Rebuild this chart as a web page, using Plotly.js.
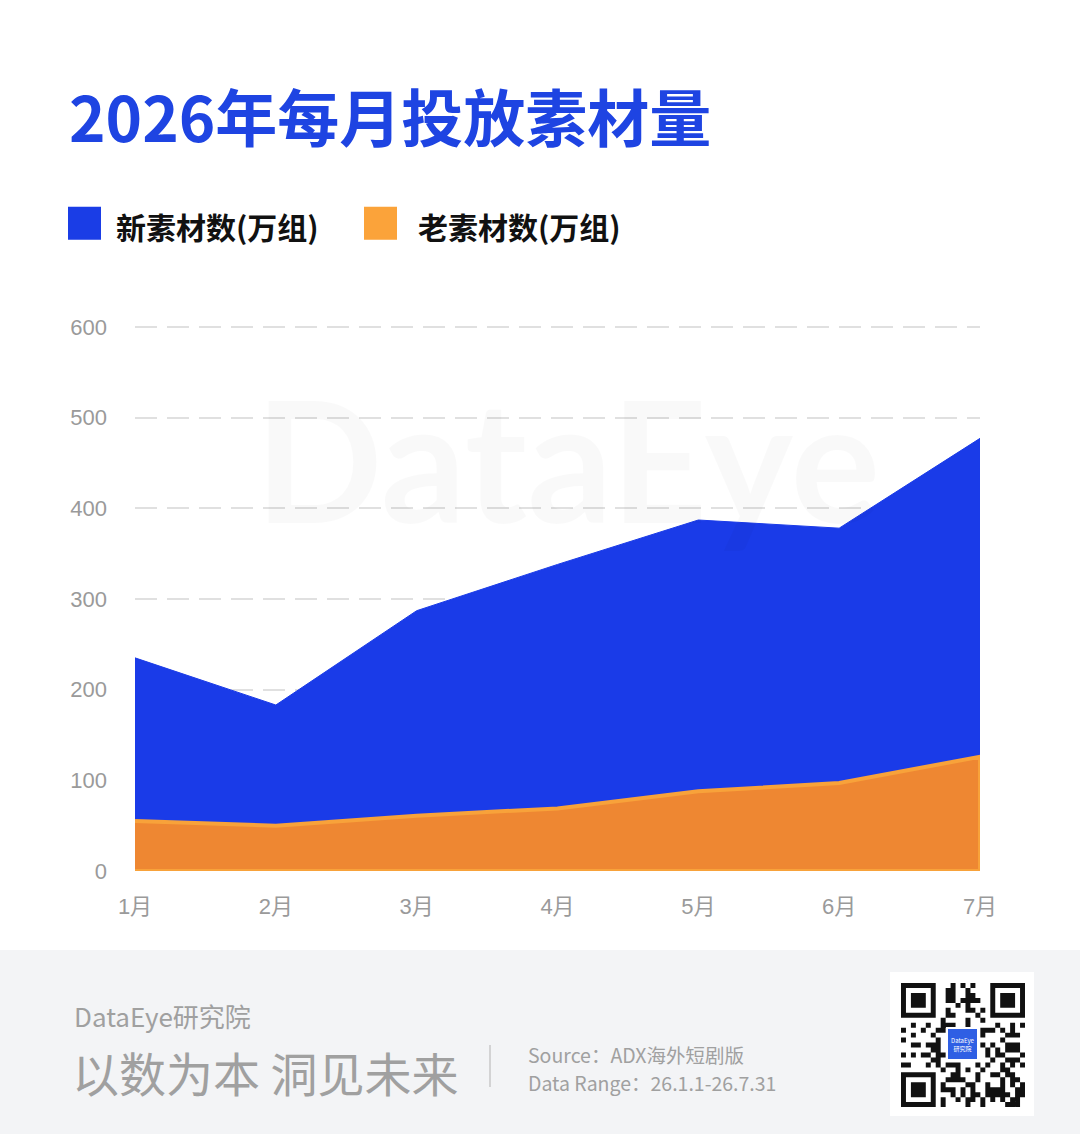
<!DOCTYPE html>
<html>
<head>
<meta charset="utf-8">
<script src="https://cdn.plot.ly/plotly-3.0.1.min.js"></script>
<style>
html,body{margin:0;padding:0;background:#fff;}
#chart{width:1080px;height:1134px;}
</style>
</head>
<body>
<div id="chart"></div>
<script>
const months = ["1月","2月","3月","4月","5月","6月","7月"];
const newMaterial = [235, 183, 287, 338, 387, 378, 477];
const oldMaterial = [55, 50, 61, 69, 88, 97, 126];
const yTicks = [0, 100, 200, 300, 400, 500, 600];

const W = 1080, H = 1134;
const YMAX = 602;
const L = 135, R = 980, B = 871;
const T = B - 544 * YMAX / 600;
const xp = px => (px - L) / (R - L);
const yp = py => (B - py) / (B - T);
const FONT = '"Noto Sans CJK SC", "Noto Sans", sans-serif';
const TICKFONT = '"Liberation Sans", Arial, "Noto Sans CJK SC", sans-serif';

// closed polygon for the old-material area so its outline runs all round
const oldX = months.concat(months.slice().reverse());
const oldY = oldMaterial.concat(months.map(() => 0));

const traces = [
  {
    x: months, y: newMaterial, type: 'scatter', mode: 'lines',
    fill: 'tozeroy', fillcolor: '#1A3BE8',
    line: {color: '#1A3BE8', width: 1},
    name: '新素材数(万组)', hoverinfo: 'skip'
  },
  {
    x: oldX, y: oldY, type: 'scatter', mode: 'lines',
    fill: 'toself', fillcolor: '#EE8732',
    line: {color: '#F8A23A', width: 4},
    name: '老素材数(万组)', hoverinfo: 'skip', cliponaxis: false
  }
];

// decorative QR-like block (footer ornament)
function qrPath(x0, y0, size, n) {
  const m = size / n;
  let d = '';
  const inFinder = (i, j) => (i < 8 && j < 8) || (i >= n - 8 && j < 8) || (i < 8 && j >= n - 8);
  const inLogo = (i, j) => i >= 9 && i <= 15 && j >= 9 && j <= 15;
  const rect = (i, j, w, h) => {
    const a = xp(x0 + i * m), b = xp(x0 + (i + w) * m);
    const c = yp(y0 + j * m), e = yp(y0 + (j + h) * m);
    d += `M${a},${c}L${b},${c}L${b},${e}L${a},${e}Z`;
  };
  for (let j = 0; j < n; j++) {
    for (let i = 0; i < n; i++) {
      if (inFinder(i, j) || inLogo(i, j)) continue;
      const h = ((i * 73856093) ^ (j * 19349663) ^ (i * j * 83492791)) >>> 0;
      if (h % 7 < 3) rect(i, j, 1, 1);
    }
  }
  const finder = (fi, fj) => {
    rect(fi, fj, 7, 1); rect(fi, fj + 6, 7, 1); rect(fi, fj + 1, 1, 5); rect(fi + 6, fj + 1, 1, 5);
    rect(fi + 2, fj + 2, 3, 3);
  };
  finder(0, 0); finder(n - 7, 0); finder(0, n - 7);
  return d;
}

const QX = 901, QY = 983, QS = 124, QN = 25;

const shapes = [
  {type:'rect', xref:'paper', yref:'paper', x0:xp(0), x1:xp(W), y0:yp(H), y1:yp(950),
   fillcolor:'#F3F4F6', line:{width:0}, layer:'below'},
  {type:'rect', xref:'paper', yref:'paper', x0:xp(68), x1:xp(101), y0:yp(240), y1:yp(207),
   fillcolor:'#1A3DE6', line:{width:0}},
  {type:'rect', xref:'paper', yref:'paper', x0:xp(364), x1:xp(397), y0:yp(240), y1:yp(207),
   fillcolor:'#FBA33A', line:{width:0}},
  {type:'line', xref:'paper', yref:'paper', x0:xp(490), x1:xp(490), y0:yp(1045), y1:yp(1087),
   line:{color:'#C8C8C8', width:1.5}},
  {type:'rect', xref:'paper', yref:'paper', x0:xp(890), x1:xp(1034), y0:yp(1116), y1:yp(972),
   fillcolor:'#FFFFFF', line:{width:0}},
  {type:'path', xref:'paper', yref:'paper', path: qrPath(QX, QY, QS, QN),
   fillcolor:'#111111', line:{width:0}},
  {type:'rect', xref:'paper', yref:'paper', x0:xp(947), x1:xp(978), y0:yp(1060), y1:yp(1028),
   fillcolor:'#2F5FE4', line:{color:'#FFFFFF', width:2}}
];

const annotations = [
  {text:'<b>2026年每月投放素材量</b>', xref:'paper', yref:'paper', x:xp(67), y:yp(115),
   xanchor:'left', yanchor:'middle', showarrow:false,
   font:{family:FONT, size:62, color:'#1E44E2'}},
  {text:'<b>新素材数(万组)</b>', xref:'paper', yref:'paper', x:xp(114), y:yp(226),
   xanchor:'left', yanchor:'middle', showarrow:false,
   font:{family:FONT, size:30, color:'#111111'}},
  {text:'<b>老素材数(万组)</b>', xref:'paper', yref:'paper', x:xp(416), y:yp(226),
   xanchor:'left', yanchor:'middle', showarrow:false,
   font:{family:FONT, size:30, color:'#111111'}},
  {text:'<b>DataEye</b>', xref:'paper', yref:'paper', x:xp(567), y:yp(458),
   xanchor:'center', yanchor:'middle', showarrow:false,
   font:{family:'Lato, "Open Sans", sans-serif', size:168, color:'rgba(0,0,0,0.022)'}},
  {text:'DataEye研究院', xref:'paper', yref:'paper', x:xp(72), y:yp(1015),
   xanchor:'left', yanchor:'middle', showarrow:false,
   font:{family:FONT, size:26, color:'#A0A0A0'}},
  {text:'以数为本 洞见未来', xref:'paper', yref:'paper', x:xp(70), y:yp(1071),
   xanchor:'left', yanchor:'middle', showarrow:false,
   font:{family:FONT, size:47, color:'#A0A0A0'}},
  {text:'Source：ADX海外短剧版', xref:'paper', yref:'paper',
   x:xp(526), y:yp(1054), xanchor:'left', yanchor:'middle', showarrow:false,
   font:{family:FONT, size:19.5, color:'#A0A0A0'}},
  {text:'Data Range：26.1.1-26.7.31', xref:'paper', yref:'paper',
   x:xp(526), y:yp(1082), xanchor:'left', yanchor:'middle', showarrow:false,
   font:{family:FONT, size:19.5, color:'#A0A0A0'}},
  {text:'DataEye<br>研究院', xref:'paper', yref:'paper', x:xp(962.5), y:yp(1044),
   xanchor:'center', yanchor:'middle', showarrow:false,
   font:{family:FONT, size:6, color:'#FFFFFF'}}
];

const layout = {
  width: W, height: H,
  margin: {l: L, r: W - R, t: T, b: H - B, pad: 0},
  paper_bgcolor: '#FFFFFF',
  plot_bgcolor: 'rgba(0,0,0,0)',
  showlegend: false,
  xaxis: {
    type: 'category', range: [0, months.length - 1],
    showgrid: false, zeroline: false, showline: false,
    ticks: '', ticklabelstandoff: 20,
    tickfont: {family: TICKFONT, size: 22, color: '#9A9A9A'},
    fixedrange: true
  },
  yaxis: {
    range: [0, YMAX], tickvals: yTicks,
    showgrid: true, gridcolor: '#E0E0E0', gridwidth: 2, griddash: '22px,10px',
    zeroline: false, showline: false, ticks: '', ticklabelstandoff: 27,
    tickfont: {family: TICKFONT, size: 22, color: '#9A9A9A'},
    fixedrange: true
  },
  shapes: shapes,
  annotations: annotations
};

Plotly.newPlot('chart', traces, layout, {displayModeBar: false, staticPlot: true});
</script>
</body>
</html>
